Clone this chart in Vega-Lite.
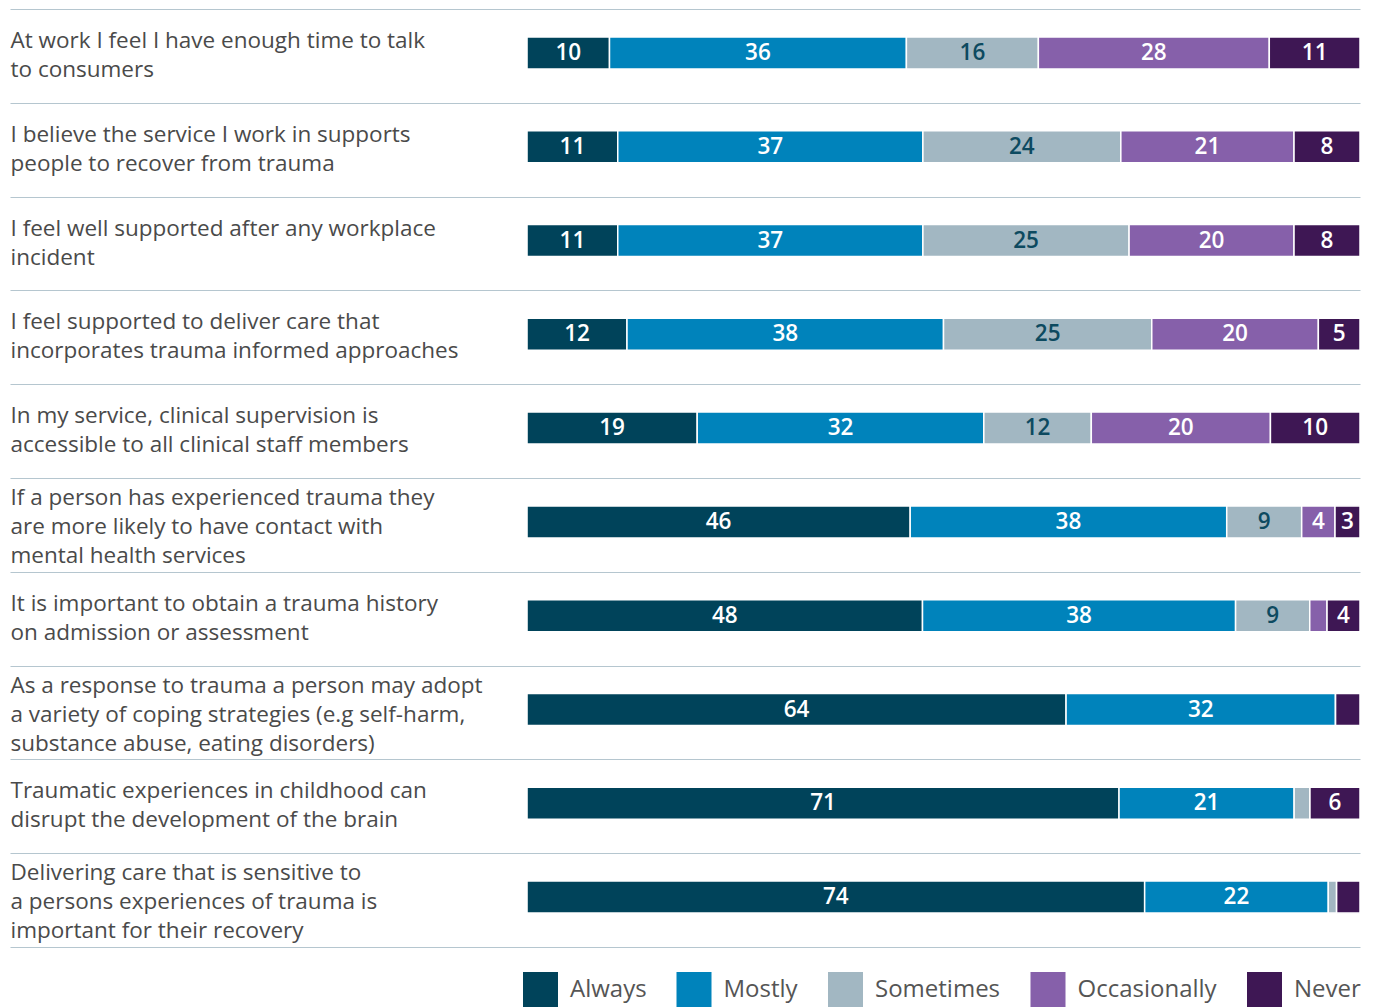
{
  "$schema": "https://vega.github.io/schema/vega-lite/v6.json",
  "width": 1350,
  "height": 938,
  "autosize": "none",
  "padding": {"left": 10, "top": 9, "right": 18, "bottom": 61},
  "background": "white",
  "config": {"view": {"stroke": null}, "font": "Open Sans"},
  "data": {
    "values": [
      {"q": "At work I feel I have enough time to talk\nto consumers", "r": "Always", "v": 10},
      {"q": "At work I feel I have enough time to talk\nto consumers", "r": "Mostly", "v": 36},
      {"q": "At work I feel I have enough time to talk\nto consumers", "r": "Sometimes", "v": 16},
      {"q": "At work I feel I have enough time to talk\nto consumers", "r": "Occasionally", "v": 28},
      {"q": "At work I feel I have enough time to talk\nto consumers", "r": "Never", "v": 11},
      {"q": "I believe the service I work in supports\npeople to recover from trauma", "r": "Always", "v": 11},
      {"q": "I believe the service I work in supports\npeople to recover from trauma", "r": "Mostly", "v": 37},
      {"q": "I believe the service I work in supports\npeople to recover from trauma", "r": "Sometimes", "v": 24},
      {"q": "I believe the service I work in supports\npeople to recover from trauma", "r": "Occasionally", "v": 21},
      {"q": "I believe the service I work in supports\npeople to recover from trauma", "r": "Never", "v": 8},
      {"q": "I feel well supported after any workplace\nincident", "r": "Always", "v": 11},
      {"q": "I feel well supported after any workplace\nincident", "r": "Mostly", "v": 37},
      {"q": "I feel well supported after any workplace\nincident", "r": "Sometimes", "v": 25},
      {"q": "I feel well supported after any workplace\nincident", "r": "Occasionally", "v": 20},
      {"q": "I feel well supported after any workplace\nincident", "r": "Never", "v": 8},
      {"q": "I feel supported to deliver care that\nincorporates trauma informed approaches", "r": "Always", "v": 12},
      {"q": "I feel supported to deliver care that\nincorporates trauma informed approaches", "r": "Mostly", "v": 38},
      {"q": "I feel supported to deliver care that\nincorporates trauma informed approaches", "r": "Sometimes", "v": 25},
      {"q": "I feel supported to deliver care that\nincorporates trauma informed approaches", "r": "Occasionally", "v": 20},
      {"q": "I feel supported to deliver care that\nincorporates trauma informed approaches", "r": "Never", "v": 5},
      {"q": "In my service, clinical supervision is\naccessible to all clinical staff members", "r": "Always", "v": 19},
      {"q": "In my service, clinical supervision is\naccessible to all clinical staff members", "r": "Mostly", "v": 32},
      {"q": "In my service, clinical supervision is\naccessible to all clinical staff members", "r": "Sometimes", "v": 12},
      {"q": "In my service, clinical supervision is\naccessible to all clinical staff members", "r": "Occasionally", "v": 20},
      {"q": "In my service, clinical supervision is\naccessible to all clinical staff members", "r": "Never", "v": 10},
      {"q": "If a person has experienced trauma they\nare more likely to have contact with\nmental health services", "r": "Always", "v": 46},
      {"q": "If a person has experienced trauma they\nare more likely to have contact with\nmental health services", "r": "Mostly", "v": 38},
      {"q": "If a person has experienced trauma they\nare more likely to have contact with\nmental health services", "r": "Sometimes", "v": 9},
      {"q": "If a person has experienced trauma they\nare more likely to have contact with\nmental health services", "r": "Occasionally", "v": 4},
      {"q": "If a person has experienced trauma they\nare more likely to have contact with\nmental health services", "r": "Never", "v": 3},
      {"q": "It is important to obtain a trauma history\non admission or assessment", "r": "Always", "v": 48},
      {"q": "It is important to obtain a trauma history\non admission or assessment", "r": "Mostly", "v": 38},
      {"q": "It is important to obtain a trauma history\non admission or assessment", "r": "Sometimes", "v": 9},
      {"q": "It is important to obtain a trauma history\non admission or assessment", "r": "Occasionally", "v": 2.1},
      {"q": "It is important to obtain a trauma history\non admission or assessment", "r": "Never", "v": 4},
      {"q": "As a response to trauma a person may adopt\na variety of coping strategies (e.g self-harm,\nsubstance abuse, eating disorders)", "r": "Always", "v": 64},
      {"q": "As a response to trauma a person may adopt\na variety of coping strategies (e.g self-harm,\nsubstance abuse, eating disorders)", "r": "Mostly", "v": 32},
      {"q": "As a response to trauma a person may adopt\na variety of coping strategies (e.g self-harm,\nsubstance abuse, eating disorders)", "r": "Sometimes", "v": 0},
      {"q": "As a response to trauma a person may adopt\na variety of coping strategies (e.g self-harm,\nsubstance abuse, eating disorders)", "r": "Occasionally", "v": 0},
      {"q": "As a response to trauma a person may adopt\na variety of coping strategies (e.g self-harm,\nsubstance abuse, eating disorders)", "r": "Never", "v": 2.9},
      {"q": "Traumatic experiences in childhood can\ndisrupt the development of the brain", "r": "Always", "v": 71},
      {"q": "Traumatic experiences in childhood can\ndisrupt the development of the brain", "r": "Mostly", "v": 21},
      {"q": "Traumatic experiences in childhood can\ndisrupt the development of the brain", "r": "Sometimes", "v": 1.9},
      {"q": "Traumatic experiences in childhood can\ndisrupt the development of the brain", "r": "Occasionally", "v": 0},
      {"q": "Traumatic experiences in childhood can\ndisrupt the development of the brain", "r": "Never", "v": 6},
      {"q": "Delivering care that is sensitive to\na persons experiences of trauma is\nimportant for their recovery", "r": "Always", "v": 74},
      {"q": "Delivering care that is sensitive to\na persons experiences of trauma is\nimportant for their recovery", "r": "Mostly", "v": 22},
      {"q": "Delivering care that is sensitive to\na persons experiences of trauma is\nimportant for their recovery", "r": "Sometimes", "v": 1},
      {"q": "Delivering care that is sensitive to\na persons experiences of trauma is\nimportant for their recovery", "r": "Occasionally", "v": 0},
      {"q": "Delivering care that is sensitive to\na persons experiences of trauma is\nimportant for their recovery", "r": "Never", "v": 2.8}
    ]
  },
  "transform": [
    {"calculate": "indexof(['Always','Mostly','Sometimes','Occasionally','Never'], datum.r)", "as": "ord"}
  ],
  "encoding": {
    "y": {
      "field": "q",
      "type": "nominal",
      "sort": null,
      "scale": {"paddingInner": 0, "paddingOuter": 0},
      "axis": {
        "title": null,
        "domain": false,
        "ticks": false,
        "tickSize": 0,
        "tickBand": "extent",
        "grid": true,
        "gridColor": "#b5c6cf",
        "gridWidth": 1.2,
        "labelAlign": "left",
        "labelPadding": 0,
        "labelBaseline": "middle",
        "labelFontSize": 22.5,
        "labelColor": "#4a4a4a",
        "labelLineHeight": 29,
        "labelLimit": 520,
        "labelOffset": {"condition": {"test": "length(split(datum.value, '\\n')) >= 3", "value": -27.5}, "value": -15.5},
        "labelExpr": "split(datum.label, '\\n')"
      }
    }
  },
  "layer": [
    {
      "mark": {"type": "bar", "height": 32, "yOffset": -3, "stroke": "white", "strokeWidth": 1.5},
      "encoding": {
        "x": {"field": "v", "type": "quantitative", "stack": "normalize", "scale": {"domain": [-0.6207, 1], "nice": false, "zero": false}, "axis": null},
        "order": {"field": "ord", "type": "quantitative"},
        "color": {
          "field": "r",
          "type": "nominal",
          "scale": {"domain": ["Always", "Mostly", "Sometimes", "Occasionally", "Never"], "range": ["#00435a", "#0083bb", "#a2b7c2", "#8660aa", "#3e1754"]},
          "legend": {
            "title": null,
            "orient": "none",
            "direction": "horizontal",
            "legendX": 513,
            "legendY": 963,
            "symbolType": "square",
            "symbolSize": 1225,
            "symbolStrokeWidth": 0,
            "labelFontSize": 24,
            "labelColor": "#555555",
            "labelOffset": 12,
            "columnPadding": 29.5,
            "labelFont": "Open Sans"
          }
        }
      }
    },
    {
      "mark": {"type": "text", "fontSize": 22.5, "fontWeight": 600, "yOffset": -3, "baseline": "middle", "align": "center"},
      "encoding": {
        "x": {"field": "v", "type": "quantitative", "stack": "normalize", "bandPosition": 0.5},
        "order": {"field": "ord", "type": "quantitative"},
        "detail": {"field": "r"},
        "text": {"condition": {"test": "datum.v >= 3", "field": "v", "type": "quantitative", "format": ".0f"}, "value": ""},
        "color": {"condition": {"test": "datum.r === 'Sometimes'", "value": "#0d4a60"}, "value": "white"}
      }
    }
  ]
}
